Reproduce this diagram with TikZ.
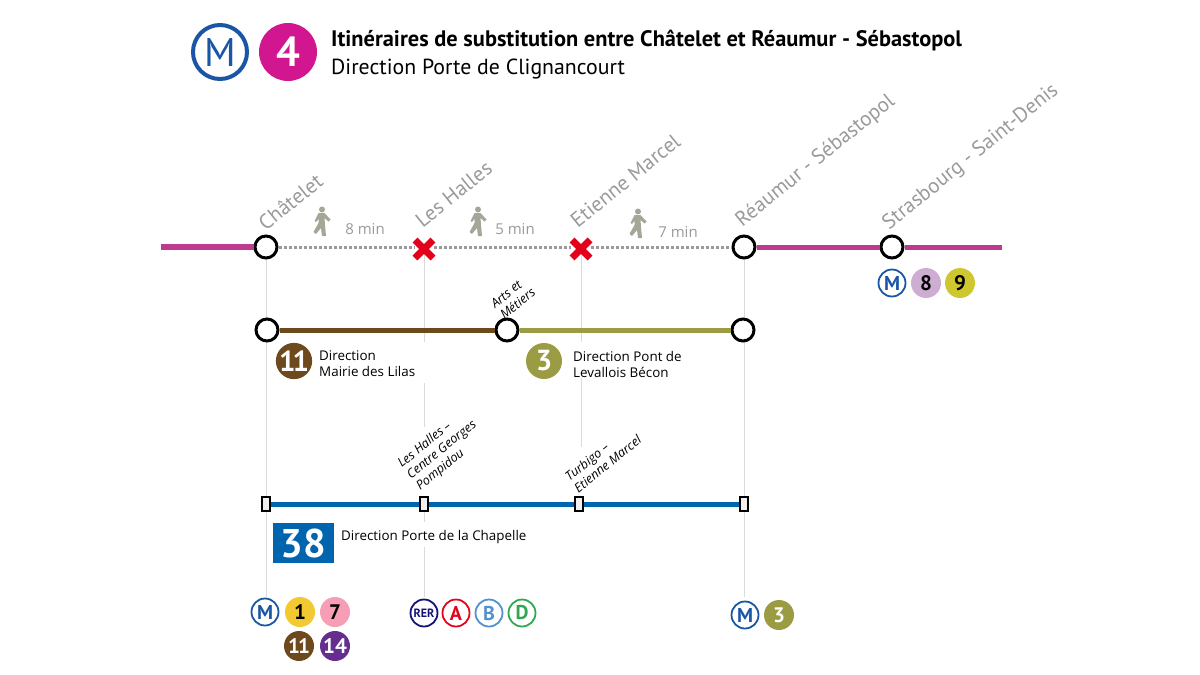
\documentclass[tikz,border=0pt]{standalone}
\usepackage{fontspec}
\setmainfont{PT Sans}
\newfontfamily\smallfont{Open Sans}
\usetikzlibrary{backgrounds}
\definecolor{lineQuatre}{HTML}{BC3A90}
\definecolor{badgeQuatre}{HTML}{D2168F}
\definecolor{lineOnze}{HTML}{6E491E}
\definecolor{lineTrois}{HTML}{9B9B43}
\definecolor{lineBus}{HTML}{0065AE}
\definecolor{metroBlue}{HTML}{1A56A5}
\definecolor{labelGrey}{HTML}{9A9A9A}
\definecolor{walkGrey}{HTML}{A6A698}
\definecolor{leaderGrey}{HTML}{DADADA}
\definecolor{crossRed}{HTML}{E2001A}
\definecolor{huitMauve}{HTML}{CEADD2}
\definecolor{neufJaune}{HTML}{CFC72F}
\definecolor{unJaune}{HTML}{F2C931}
\definecolor{septRose}{HTML}{F59EB5}
\definecolor{quatorzeViolet}{HTML}{662D91}
\definecolor{rerBleu}{HTML}{141478}
\definecolor{rerRouge}{HTML}{E3051B}
\definecolor{rerCiel}{HTML}{5291CE}
\definecolor{rerVert}{HTML}{2FA84F}
\tikzset{
	station/.style={draw=black,line width=3pt,circle,fill=white,minimum size=22pt,inner sep=0pt},
	closed/.style={minimum size=20pt,inner sep=0pt},
	arret/.style={draw=black,line width=1.8pt,fill=black!6,minimum width=8pt,minimum height=14pt,inner sep=0pt},
	leader/.style={leaderGrey,line width=1pt},
	stationname/.style={labelGrey,font=\fontsize{21}{23}\selectfont,rotate=39,anchor=south west,inner sep=0pt},
	stopname/.style={black,font=\smallfont\itshape\fontsize{12.6}{14.6}\selectfont,rotate=39,align=left,inner sep=0pt},
	dirtext/.style={font=\smallfont\fontsize{13.4}{16}\selectfont,align=left,anchor=west,inner sep=0pt},
	mintext/.style={labelGrey,font=\smallfont\fontsize{15}{16}\selectfont,inner sep=0pt},
	badge/.style={circle,fill=#1,text=black,font=\bfseries\fontsize{21}{21}\selectfont,minimum size=30pt,inner sep=0pt},
	bigbadge/.style={circle,fill=#1,text=white,font=\bfseries\fontsize{29}{29}\selectfont,minimum size=36pt,inner sep=0pt},
	ring/.style={circle,draw=#1,text=#1,fill=white,line width=1.8pt,font=\bfseries\fontsize{20}{20}\selectfont,minimum size=27pt,inner sep=0pt},
	walker/.pic={
		\fill[walkGrey] (0,-12.5) circle (3);
		\fill[walkGrey] (-3.5,-9) -- (2.5,-9) -- (8.5,-2.5) -- (6.5,-0.5) -- (2.5,-4) -- (3,3) -- (4,14) -- (0,14) -- (-1,6) -- (-6,12) -- (-8.5,10) -- (-3.5,1) -- (-3.5,-3) -- (-6,0) -- (-7.5,-1) -- cycle;
	}
}
\begin{document}
\begin{tikzpicture}[x=1pt,y=-1pt]
	\useasboundingbox (0,0) rectangle (1200,675);
	% header
	\node[ring=metroBlue,line width=4pt,font=\fontsize{40}{40}\selectfont,minimum size=54pt] (mHead) at (220,52) {M};
	\node[bigbadge=badgeQuatre,minimum size=58pt,font=\bfseries\fontsize{42}{42}\selectfont] (ligneQuatre) at (288,52) {4};
	\node[anchor=west,inner sep=0pt,font=\bfseries\fontsize{22.4}{24}\selectfont] (titre) at (331,41) {Itinéraires de substitution entre Châtelet et Réaumur - Sébastopol};
	\node[anchor=west,inner sep=0pt,font=\fontsize{21.8}{24}\selectfont] (direction) at (331,69) {Direction Porte de Clignancourt};
	% ligne 4
	\coordinate (debut) at (161,247);
	\coordinate (fin) at (1002,247);
	\node[station] (chatelet) at (266,247) {};
	\node[closed] (halles) at (424,247) {};
	\node[closed] (marcel) at (581,247) {};
	\node[station] (reaumur) at (744,247) {};
	\node[station] (strasbourg) at (892,247) {};
	\draw[lineQuatre,line width=6pt] (debut) -- (chatelet);
	\draw[lineQuatre,line width=5pt] (reaumur) -- (strasbourg);
	\draw[lineQuatre,line width=5pt] (strasbourg) -- (fin);
	\draw[labelGrey,line width=3pt,dash pattern=on 3pt off 2pt] (chatelet) -- (halles);
	\draw[labelGrey,line width=3pt,dash pattern=on 3pt off 2pt] (halles) -- (marcel);
	\draw[labelGrey,line width=3pt,dash pattern=on 3pt off 2pt] (marcel) -- (reaumur);
	\draw[crossRed,line width=7pt] (halles.center) ++(-9,-7) -- ++(18,18) ++(0,-18) -- ++(-18,18);
	\draw[crossRed,line width=7pt] (marcel.center) ++(-9,-7) -- ++(18,18) ++(0,-18) -- ++(-18,18);
	\node[stationname] (nomChatelet) at (266,232) {Châtelet};
	\node[stationname] (nomHalles) at (423,229) {Les Halles};
	\node[stationname] (nomMarcel) at (578,229) {Etienne Marcel};
	\node[stationname] (nomReaumur) at (745,231) {Réaumur - Sébastopol};
	\node[stationname] (nomStrasbourg) at (892,234) {Strasbourg - Saint-Denis};
	\pic at (322,222) {walker};
	\pic at (478,222) {walker};
	\pic at (638,224) {walker};
	\node[mintext] (huit) at (365,229) {8 min};
	\node[mintext] (cinq) at (515,229) {5 min};
	\node[mintext] (sept) at (678,232) {7 min};
	\node[ring=metroBlue] (mStras) at (892,283) {M};
	\node[badge=huitMauve] (huitB) at (926,283) {8};
	\node[badge=neufJaune] (neufB) at (960,283) {9};
	% lignes 11 et 3
	\node[station] (onzeA) at (267,330) {};
	\node[station] (arts) at (507,330) {};
	\node[station] (onzeB) at (743,330) {};
	\draw[lineOnze,line width=5pt] (onzeA) -- (arts);
	\draw[lineTrois,line width=5pt] (arts) -- (onzeB);
	\node[stopname] (nomArts) at (513,298) {Arts et\\Métiers};
	\node[bigbadge=lineOnze] (badgeOnze) at (294,361) {1\kern-3pt 1};
	\node[dirtext] (dirOnze) at (319,364) {Direction\\Mairie des Lilas};
	\node[bigbadge=lineTrois] (badgeTrois) at (544,361) {3};
	\node[dirtext] (dirTrois) at (573,364) {Direction Pont de\\Levallois Bécon};
	% bus 38
	\node[arret] (busA) at (266,504) {};
	\node[arret] (busB) at (424,504) {};
	\node[arret] (busC) at (579,504) {};
	\node[arret] (busD) at (744,504) {};
	\draw[lineBus,line width=5pt] (busA) -- (busB);
	\draw[lineBus,line width=5pt] (busB) -- (busC);
	\draw[lineBus,line width=5pt] (busC) -- (busD);
	\node[stopname] (nomBusB) at (442,450) {Les Halles –\\Centre Georges\\Pompidou};
	\node[stopname] (nomBusC) at (603,458) {Turbigo –\\Etienne Marcel};
	\node[fill=lineBus,text=white,font=\bfseries\fontsize{40}{40}\selectfont,minimum width=61pt,minimum height=40pt,inner sep=0pt] (badgeBus) at (303,543) {38};
	\node[dirtext] (dirBus) at (341,537) {Direction Porte de la Chapelle};
	% correspondances
	\node[ring=metroBlue] (mChat) at (265,612) {M};
	\node[badge=unJaune] (unB) at (300,612) {1};
	\node[badge=septRose] (septB) at (335,612) {7};
	\node[badge=lineOnze,text=white] (onzeC) at (299,646) {1\kern-2pt 1};
	\node[badge=quatorzeViolet,text=white] (quatorzeB) at (335,646) {14};
	\node[ring=rerBleu,font=\bfseries\fontsize{12}{12}\selectfont] (rer) at (424,613) {RER};
	\node[ring=rerRouge] (rerA) at (456,613) {A};
	\node[ring=rerCiel] (rerB) at (489,613) {B};
	\node[ring=rerVert] (rerD) at (522,613) {D};
	\node[ring=metroBlue] (mReau) at (745,615) {M};
	\node[badge=lineTrois,text=white] (troisB) at (779,615) {3};
	% traits verticaux
	\coordinate (basA) at (266,597);
	\coordinate (hautB) at (424,342);
	\coordinate (repriseB) at (424,383);
	\coordinate (coupeB) at (424,427);
	\coordinate (sousB) at (424,522);
	\coordinate (finB) at (424,547);
	\coordinate (basB) at (424,597);
	\coordinate (hautC) at (581,342);
	\coordinate (repriseC) at (581,378);
	\coordinate (coupeC) at (581,447);
	\coordinate (basD) at (744,597);
	\begin{scope}[on background layer]
		\draw[leader] (chatelet) -- (basA);
		\draw[leader] (halles.center) -- (hautB);
		\draw[leader] (repriseB) -- (coupeB);
		\draw[leader] (busB) -- (sousB);
		\draw[leader] (finB) -- (basB);
		\draw[leader] (marcel.center) -- (hautC);
		\draw[leader] (repriseC) -- (coupeC);
		\draw[leader] (reaumur) -- (basD);
	\end{scope}
\end{tikzpicture}
\end{document}
